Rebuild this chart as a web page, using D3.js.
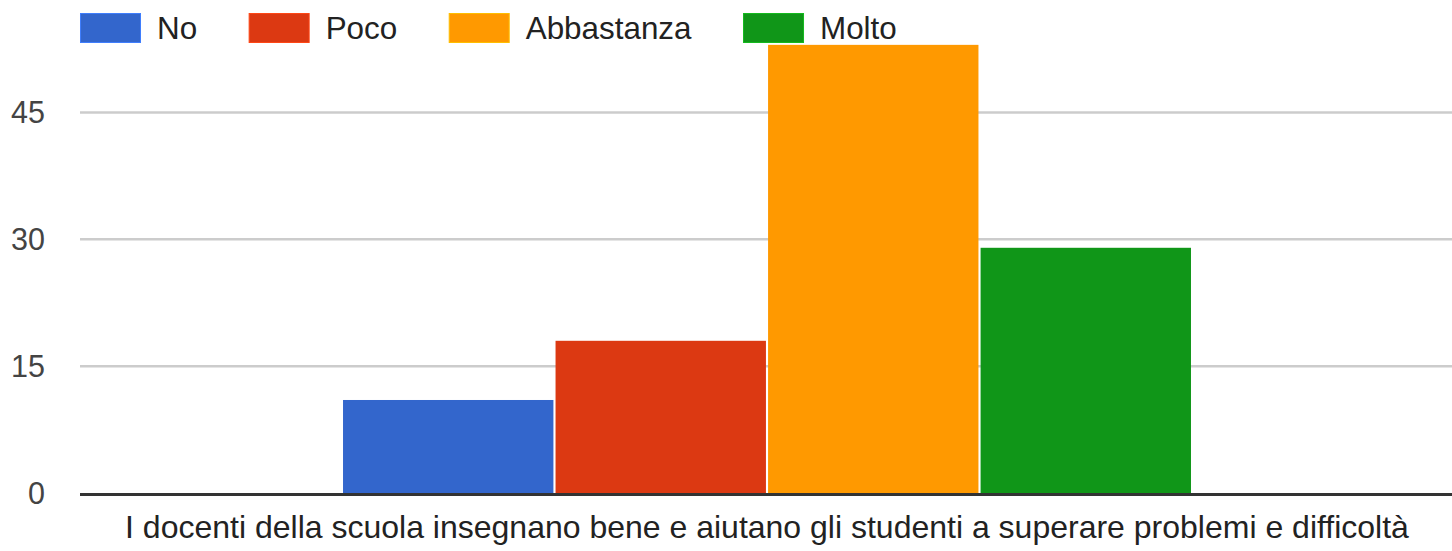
<!DOCTYPE html>
<html><head><meta charset="utf-8">
<script src="https://cdn.jsdelivr.net/npm/d3@7"></script>
<style>html,body{margin:0;padding:0;background:#fff;}svg{display:block;}</style>
</head><body>
<svg id="chart" width="1452" height="551"></svg>
<script>
const categories = ["I docenti della scuola insegnano bene e aiutano gli studenti a superare problemi e difficoltà"];
const seriesNames = ["No", "Poco", "Abbastanza", "Molto"];
const seriesValues = [11, 18, 53, 29];
const seriesColors = ["#3366cc", "#dc3912", "#ff9900", "#109618"];
const yTicks = [0, 15, 30, 45];

const W = 1452, H = 551;
const left = 80, right = 1452, baseY = 493, topTickY = 112.5;
const font = "Arial, 'Liberation Sans', sans-serif";
const svg = d3.select("#chart");

const y = d3.scaleLinear().domain([0, 45]).range([baseY, topTickY]);
const x0 = d3.scaleBand().domain(categories).range([left, right]).paddingOuter(0.309).paddingInner(0);
const x1 = d3.scaleBand().domain(seriesNames).range([0, x0.bandwidth()]).paddingInner(0.01);

// gridlines
svg.append("g").selectAll("line").data(yTicks.filter(d => d !== 0)).join("line")
  .attr("x1", left).attr("x2", right)
  .attr("y1", d => y(d)).attr("y2", d => y(d))
  .attr("stroke", "#cccccc").attr("stroke-width", 2.5);

// y tick labels
svg.append("g").selectAll("text").data(yTicks).join("text")
  .attr("x", 45).attr("y", d => y(d)).attr("dy", "0.36em")
  .attr("text-anchor", "end").attr("font-family", font).attr("font-size", 30.5)
  .attr("fill", "#444444").text(d => d);

// bars
const g = svg.append("g").attr("transform", `translate(${x0(categories[0]) + 1},0)`);
g.selectAll("rect").data(seriesNames).join("rect")
  .attr("x", d => x1(d)).attr("width", x1.bandwidth())
  .attr("y", (d, i) => y(seriesValues[i]))
  .attr("height", (d, i) => y(0) - y(seriesValues[i]))
  .attr("fill", (d, i) => seriesColors[i]);

// baseline
svg.append("line").attr("x1", left).attr("x2", right)
  .attr("y1", baseY + 1.5).attr("y2", baseY + 1.5)
  .attr("stroke", "#333333").attr("stroke-width", 3);

// x label
svg.append("text").attr("x", 767).attr("y", 538)
  .attr("text-anchor", "middle").attr("font-family", font).attr("font-size", 32)
  .attr("fill", "#222222").text(categories[0]);

// legend
const lg = svg.append("g");
let lx = 80;
seriesNames.forEach((s, i) => {
  lg.append("rect").attr("x", lx + 0.5).attr("y", 13.5).attr("width", 60).attr("height", 29)
    .attr("fill", seriesColors[i]).attr("stroke", d3.color(seriesColors[i]).brighter(0.6)).attr("stroke-width", 1);
  const t = lg.append("text").attr("x", lx + 77).attr("y", 28).attr("dy", "0.36em")
    .attr("font-family", font).attr("font-size", 31.4).attr("fill", "#222222").text(s);
  lx = lx + 77 + t.node().getComputedTextLength() + 51.5;
});
</script>
</body></html>
